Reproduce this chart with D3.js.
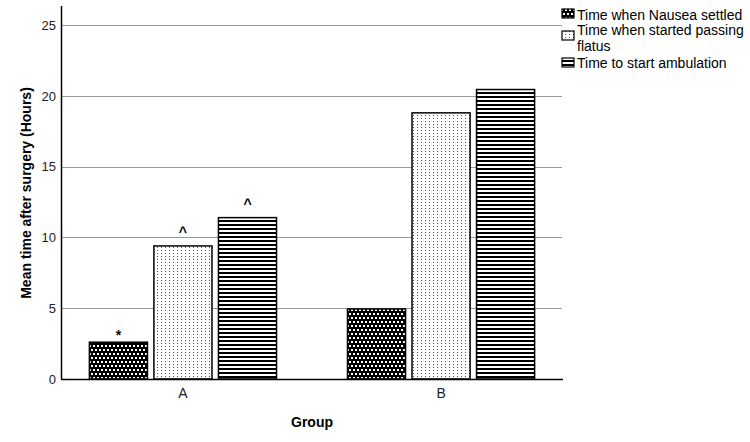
<!DOCTYPE html>
<html><head><meta charset="utf-8">
<script src="https://cdn.jsdelivr.net/npm/d3@7"></script>
<style>body{margin:0;background:#fff}svg{display:block}text{font-family:"Liberation Sans",Arial,sans-serif}</style>
</head><body><svg id="c" width="750" height="442"></svg>
<script>
const groups = ["A", "B"];
const seriesNames = ["Time when Nausea settled", "Time when started passing flatus", "Time to start ambulation"];
const nausea = [2.6, 4.95];
const flatus = [9.4, 18.8];
const ambulation = [11.4, 20.45];
const marksA = ["*", "^", "^"];
const marksB = ["", "", ""];
const yTicks = [0, 5, 10, 15, 20, 25];

const svg = d3.select("#c");
const pL = 61, pR = 563, pT = 6, pB = 379;
const x = d3.scaleBand().domain(groups).range([pL, pR]).paddingInner(0.275).paddingOuter(0.11);
const xs = d3.scaleBand().domain([0,1,2]).range([0, x.bandwidth()]).paddingInner(0.1).paddingOuter(0);
const y = d3.scaleLinear().domain([0, 26.35]).range([pB, pT]);

const defs = svg.append("defs");
const p0 = defs.append("pattern").attr("id","pat0").attr("patternUnits","userSpaceOnUse").attr("width",4).attr("height",8);
p0.append("rect").attr("width",4).attr("height",8).attr("fill","#000");
p0.append("rect").attr("x",1).attr("y",1).attr("width",2).attr("height",2).attr("fill","#fff");
p0.append("rect").attr("x",3).attr("y",5).attr("width",2).attr("height",2).attr("fill","#fff");
p0.append("rect").attr("x",-1).attr("y",5).attr("width",2).attr("height",2).attr("fill","#fff");
const p1 = defs.append("pattern").attr("id","pat1").attr("patternUnits","userSpaceOnUse").attr("width",4).attr("height",3);
p1.append("rect").attr("width",4).attr("height",3).attr("fill","#fff");
p1.append("rect").attr("x",1).attr("y",1).attr("width",1).attr("height",1).attr("fill","#555");
const p2 = defs.append("pattern").attr("id","pat2").attr("patternUnits","userSpaceOnUse").attr("width",4).attr("height",4);
p2.append("rect").attr("width",4).attr("height",4).attr("fill","#fff");
p2.append("rect").attr("x",0).attr("y",0).attr("width",4).attr("height",2).attr("fill","#000");
const fills = ["url(#pat0)","url(#pat1)","url(#pat2)"];

svg.append("g").selectAll("line").data(yTicks.filter(d=>d>0)).join("line")
  .attr("x1", pL).attr("x2", pR-1).attr("y1", d=>Math.round(y(d))+0.5).attr("y2", d=>Math.round(y(d))+0.5)
  .attr("stroke","#9a9a9a").attr("stroke-width",1);

svg.append("g").selectAll("text").data(yTicks).join("text")
  .attr("x", 56).attr("y", d=>y(d)+4.7).attr("text-anchor","end").attr("font-size",13).attr("fill","#222")
  .text(d=>d);

const data = [];
groups.forEach((g,i)=>{
  [nausea, flatus, ambulation].forEach((s,j)=>{
    data.push({g, j, v: s[i], mark: (i===0?marksA:marksB)[j]});
  });
});
svg.append("g").selectAll("rect").data(data).join("rect")
  .attr("x", d=>x(d.g)+xs(d.j)).attr("y", d=>y(d.v)).attr("width", xs.bandwidth()).attr("height", d=>pB - y(d.v))
  .attr("fill", d=>fills[d.j]).attr("stroke","#000").attr("stroke-width",1.5);

svg.append("g").selectAll("text").data(data.filter(d=>d.mark)).join("text")
  .attr("x", d=>x(d.g)+xs(d.j)+xs.bandwidth()/2).attr("y", d=>y(d.v)-(d.mark==="*"?2.5:9))
  .attr("text-anchor","middle").attr("font-size",14).attr("font-weight","bold").text(d=>d.mark);

svg.append("line").attr("x1",pL+0.5).attr("x2",pL+0.5).attr("y1",pT).attr("y2",pB).attr("stroke","#000").attr("stroke-width",1.5);
svg.append("line").attr("x1",pL).attr("x2",pR).attr("y1",pB+0.5).attr("y2",pB+0.5).attr("stroke","#000").attr("stroke-width",1.5);

svg.append("g").selectAll("text").data(groups).join("text")
  .attr("x", d=>x(d)+x.bandwidth()/2).attr("y", 398).attr("text-anchor","middle").attr("font-size",14).attr("fill","#222").text(d=>d);

svg.append("text").attr("x",(pL+pR)/2).attr("y",427).attr("text-anchor","middle").attr("font-size",14).attr("font-weight","bold").text("Group");
svg.append("text").attr("transform","translate(31,193) rotate(-90)").attr("text-anchor","middle").attr("font-size",14).attr("font-weight","bold").text("Mean time after surgery (Hours)");

const leg = [
  {lines:["Time when Nausea settled"], sy:9, ty:20},
  {lines:["Time when started passing","flatus"], sy:31, ty:35},
  {lines:["Time to start ambulation"], sy:58, ty:68}
];
leg.forEach((l,i)=>{
  svg.append("rect").attr("x",562).attr("y",l.sy).attr("width",12).attr("height",9).attr("fill",fills[i]).attr("stroke","#000").attr("stroke-width",1.2);
  const t = svg.append("text").attr("x",577).attr("y",l.ty).attr("font-size",14).attr("fill","#000");
  l.lines.forEach((s,k)=>{
    t.append("tspan").attr("x",577).attr("dy", k===0?0:16).text(s);
  });
});
</script></body></html>
